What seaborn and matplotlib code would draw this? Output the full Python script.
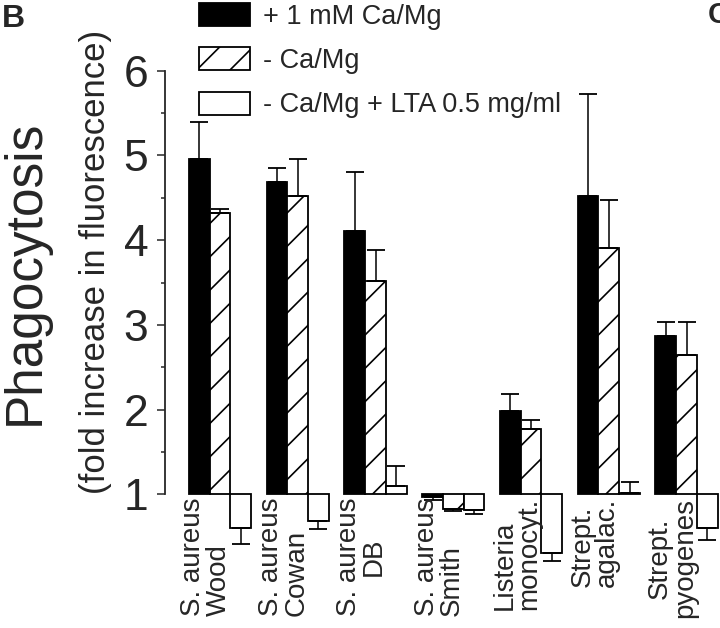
import numpy as np
import pandas as pd
import matplotlib
matplotlib.use('Agg')
import matplotlib.pyplot as plt
from matplotlib.ticker import MultipleLocator, FixedLocator
import seaborn as sns

# --- data (fold increase in fluorescence) ---
strains = ['S. aureus\nWood', 'S. aureus\nCowan', 'S. aureus\nDB', 'S. aureus\nSmith',
           'Listeria\nmonocyt.', 'Strept.\nagalac.', 'Strept.\npyogenes']
label_align = ['left', 'left', 'center', 'left', 'left', 'left', 'center']
conditions = ['+ 1 mM Ca/Mg', '- Ca/Mg', '- Ca/Mg + LTA 0.5 mg/ml']

ca_mg = [4.96, 4.69, 4.11, 0.97, 1.98, 4.52, 2.87]
ca_mg_err = [0.43, 0.16, 0.69, 0.03, 0.21, 1.20, 0.16]
no_ca_mg = [4.32, 4.52, 3.52, 0.83, 1.77, 3.91, 2.64]
no_ca_mg_err = [0.05, 0.44, 0.37, 0.03, 0.11, 0.57, 0.39]
lta = [0.60, 0.69, 1.10, 0.82, 0.31, 1.02, 0.61]
lta_err = [0.19, 0.10, 0.23, 0.05, 0.10, 0.13, 0.15]

df = pd.concat([
    pd.DataFrame({'strain': strains, 'condition': cond, 'value': vals, 'err': errs})
    for cond, vals, errs in zip(conditions, [ca_mg, no_ca_mg, lta],
                                [ca_mg_err, no_ca_mg_err, lta_err])
], ignore_index=True)
# bars start at the baseline of 1 (no change)
df['height'] = df['value'] - 1

sns.set_style('ticks')
plt.rcParams['font.family'] = ['Liberation Sans', 'DejaVu Sans']
plt.rcParams['hatch.linewidth'] = 1.2

fig = plt.figure(figsize=(7.2, 6.28), dpi=100)
ax = fig.add_axes([165 / 720, 0.0912, 555 / 720, 0.8367])

sns.barplot(data=df, x='strain', y='height', hue='condition', order=strains,
            hue_order=conditions, palette=['black', 'white', 'white'], saturation=1,
            edgecolor='black', linewidth=1.3, errorbar=None, bottom=1,
            legend=False, width=0.8, ax=ax)

for bar in ax.containers[1]:
    bar.set_hatch('/')

# one-sided error bars pointing away from the baseline
for cont, cond in zip(ax.containers, conditions):
    sub = df[df['condition'] == cond]
    xs = [p.get_x() + p.get_width() / 2 for p in cont]
    vals = sub['value'].to_numpy()
    errs = sub['err'].to_numpy()
    lower = np.where(vals < 1, errs, 0)
    upper = np.where(vals >= 1, errs, 0)
    ax.errorbar(xs, vals, yerr=[lower, upper], fmt='none', ecolor='black',
                elinewidth=1.1, capsize=6.5, capthick=1.3, zorder=1)

ax.set_xlim(-0.707, 6.43)
ax.set_ylim(0.1, 6.3)
for s in ['top', 'right', 'bottom']:
    ax.spines[s].set_visible(False)
ax.spines['left'].set_bounds(1, 6)
ax.spines['left'].set_linewidth(1.3)
ax.yaxis.set_major_locator(MultipleLocator(1))
ax.yaxis.set_minor_locator(FixedLocator([1.5, 2.5, 3.5, 4.5, 5.5]))
ax.tick_params(axis='y', which='major', length=6, width=1.1, labelsize=32, pad=6)
ax.tick_params(axis='y', which='minor', length=3, width=1.1)
ax.set_xticks([])
ax.set_xlabel('')
ax.set_ylabel('')

for i, (lab, al) in enumerate(zip(strains, label_align)):
    ax.text(i - 0.18, 0.96, lab, rotation=90, ha='center', va='top',
            fontsize=20, linespacing=0.95, multialignment=al)

fig.text(25 / 720, 1 - 272 / 628, 'Phagocytosis', rotation=90, ha='center',
         va='center', fontsize=37)
fig.text(96 / 720, 1 - 262 / 628, '(fold increase in fluorescence)', rotation=90,
         ha='center', va='center', fontsize=25)
fig.text(0.002, 0.993, 'B', fontsize=23, weight='bold', va='top', ha='left')
fig.text(708 / 720, 0.998, 'C', fontsize=21, weight='bold', va='top', ha='left')

fig.legend(ax.containers, conditions, loc='upper left',
           bbox_to_anchor=(199 / 720, 1 - 3 / 628),
           frameon=False, handlelength=1.88, handleheight=0.92, handletextpad=0.48,
           labelspacing=0.65, borderpad=0, borderaxespad=0, fontsize=19.5)

fig.savefig('out.png', dpi=100)
